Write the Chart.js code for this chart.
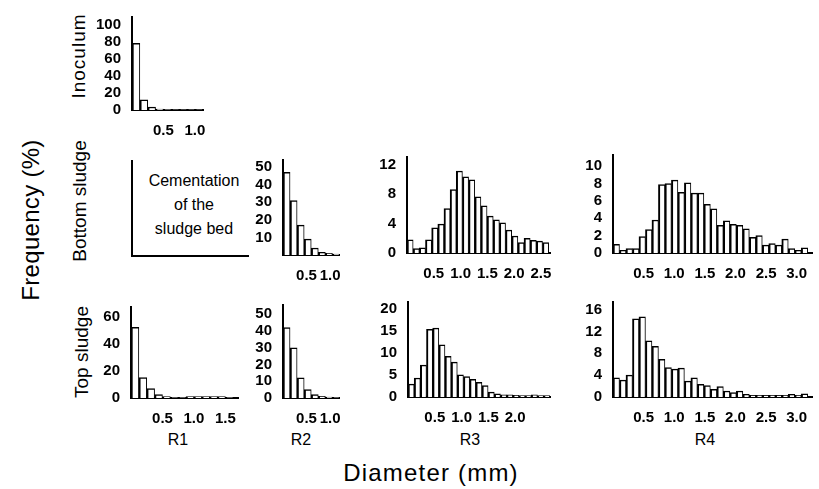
<!DOCTYPE html>
<html>
<head>
<meta charset="utf-8">
<script src="https://cdn.jsdelivr.net/npm/chart.js@4.4.1/dist/chart.umd.min.js"></script>
<style>
  body { margin: 0; background: #fff; }
  #wrap { position: relative; width: 819px; height: 489px; overflow: hidden; font-family: "Liberation Sans", Arial, sans-serif; color: #000; }
  #wrap canvas { position: absolute; }
  .lbl { position: absolute; white-space: nowrap; transform: translate(-50%, -50%); }
  .rot { transform: translate(-50%, -50%) rotate(-90deg); }
  .row { font-size: 19px; }
  .col { font-size: 16px; }
  #cement { position: absolute; left: 131px; top: 160px; width: 116px; height: 95px; border-left: 2px solid #000; border-bottom: 2px solid #000; }
  #cementText { position: absolute; left: 194px; top: 205px; transform: translate(-50%, -50%); text-align: center; font-size: 16px; line-height: 24px; }
</style>
</head>
<body>
<div id="wrap">
  <div class="lbl rot" style="left:31px; top:220px; font-size:24px; letter-spacing:0.3px;">Frequency (%)</div>
  <div class="lbl rot row" style="left:79px; top:56px; letter-spacing:1px;">Inoculum</div>
  <div class="lbl rot row" style="left:80px; top:201px;">Bottom sludge</div>
  <div class="lbl rot row" style="left:82px; top:352px;">Top sludge</div>
  <div id="cement"></div>
  <div id="cementText">Cementation<br>of the<br>sludge bed</div>
  <div class="lbl col" style="left:178px; top:440px;">R1</div>
  <div class="lbl col" style="left:301px; top:440px;">R2</div>
  <div class="lbl col" style="left:470px; top:440px;">R3</div>
  <div class="lbl col" style="left:705px; top:440px;">R4</div>
  <div class="lbl" style="left:431px; top:473px; font-size:24px; letter-spacing:1.2px;">Diameter (mm)</div>
</div>
<script>
// Histogram bin width (mm) and frequency (%) per bin
const inoculumBin = 0.125;
const inoculumFreq = [78, 12, 3.5, 1, 0.5, 0.3, 0.3, 0.3, 0.3];

const bottomR2Bin = 0.15;
const bottomR2Freq = [47, 31, 17, 9, 4, 1.5, 1, 0.5];

const bottomR3Bin = 0.115;
const bottomR3Freq = [1.8, 0.6, 0.7, 1.8, 3.4, 3.9, 6.0, 8.6, 11.1, 10.3, 9.9, 7.6,
  6.4, 5.0, 4.5, 4.1, 3.1, 2.3, 1.4, 2.0, 1.7, 1.6, 1.4];

const bottomR4Bin = 0.106;
const bottomR4Freq = [1.0, 0.3, 0.5, 0.5, 1.9, 2.7, 3.8, 7.9, 8.0, 8.4, 7.0, 8.1, 6.9,
  6.9, 5.6, 5.1, 3.2, 3.7, 3.3, 3.2, 2.8, 1.8, 2.0, 0.9, 1.1, 0.9, 1.6, 0.5, 0.3, 0.6];

const topR1Bin = 0.125;
const topR1Freq = [52, 15, 7, 2.5, 1, 0.4, 0.4, 1, 1, 1, 1, 1, 0.4];

const topR2Bin = 0.15;
const topR2Freq = [42, 30, 12, 5, 2, 1, 0.5, 0.3];

const topR3Bin = 0.115;
const topR3Freq = [2.9, 4.3, 7.2, 15.3, 15.6, 11.8, 9.2, 7.9, 5.0, 4.6, 4.0, 3.3,
  2.6, 1.1, 0.7, 0.5, 0.5, 0.4, 0.3, 0.3, 0.5, 0.3, 0.3];

const topR4Bin = 0.106;
const topR4Freq = [3.5, 3.1, 4.0, 14.3, 14.7, 10.3, 9.3, 6.9, 5.4, 5.1, 5.3, 2.9, 3.5,
  2.3, 2.1, 1.4, 1.9, 1.1, 0.8, 1.1, 0.5, 0.3, 0.3, 0.3, 0.3, 0.3, 0.3, 0.5, 0.3, 0.6];

// Tick labels
const xTicksR1 = [0.5, 1.0, 1.5];
const xTicksInoc = [0.5, 1.0];
const xTicksR2 = [0.5, 1.0];
const xTicksBottomR3 = [0.5, 1.0, 1.5, 2.0, 2.5];
const xTicksTopR3 = [0.5, 1.0, 1.5, 2.0];
const xTicksR4 = [0.5, 1.0, 1.5, 2.0, 2.5, 3.0];

const yTicksInoc = [0, 20, 40, 60, 80, 100];
const yTicksBottomR2 = [10, 20, 30, 40, 50];
const yTicksBottomR3 = [0, 4, 8, 12];
const yTicksBottomR4 = [0, 2, 4, 6, 8, 10];
const yTicksTopR1 = [0, 20, 40, 60];
const yTicksTopR2 = [0, 10, 20, 30, 40, 50];
const yTicksTopR3 = [0, 5, 10, 15, 20];
const yTicksTopR4 = [0, 4, 8, 12, 16];

const tickFont = { family: "'Liberation Sans', Arial, sans-serif", size: 15, weight: 'bold' };

// box = pixel position of the plot area on the page
function makePanel(bin, freq, xTicks, yTicks, xMax, yMax, box) {
  const padL = 44, padT = 10, padR = 8, axisH = 30;
  const w = box.right - box.left + padL + padR;
  const h = box.bottom - box.top + padT + axisH;
  const canvas = document.createElement("canvas");
  canvas.width = w;
  canvas.height = h;
  canvas.style.left = box.left - padL + "px";
  canvas.style.top = box.top - padT + "px";
  canvas.style.width = w + "px";
  canvas.style.height = h + "px";
  document.getElementById("wrap").appendChild(canvas);

  new Chart(canvas.getContext("2d"), {
    type: "bar",
    data: {
      datasets: [
        {
          data: freq.map((f, i) => ({ x: (i + 0.5) * bin, y: f })),
          backgroundColor: "#fff",
          borderColor: "#000",
          borderWidth: { left: 2, top: 1.5, right: 1, bottom: 0 },
          categoryPercentage: 1,
          barPercentage: 1,
        },
      ],
    },
    options: {
      responsive: false,
      animation: false,
      devicePixelRatio: 1,
      layout: { padding: { top: padT, right: padR, left: 0, bottom: 0 } },
      plugins: { legend: { display: false }, tooltip: { enabled: false } },
      scales: {
        x: {
          type: "linear",
          min: 0,
          max: xMax,
          offset: false,
          grid: { display: false },
          border: { color: "#000", width: 2 },
          afterBuildTicks: (axis) => { axis.ticks = xTicks.map((v) => ({ value: v })); },
          afterFit: (axis) => { axis.height = axisH; },
          ticks: {
            callback: (v) => v.toFixed(1),
            autoSkip: false,
            maxRotation: 0,
            padding: 4,
            color: "#000",
            font: tickFont,
          },
        },
        y: {
          min: 0,
          max: yMax,
          grid: { display: false },
          border: { color: "#000", width: 2 },
          afterBuildTicks: (axis) => { axis.ticks = yTicks.map((v) => ({ value: v })); },
          afterFit: (axis) => { axis.width = padL; },
          ticks: {
            callback: (v) => String(v),
            autoSkip: false,
            padding: 3,
            color: "#000",
            font: tickFont,
          },
        },
      },
    },
  });
}

makePanel(inoculumBin, inoculumFreq, xTicksInoc, yTicksInoc, 1.13, 109,
  { left: 132, right: 203, top: 15, bottom: 110 });
makePanel(bottomR2Bin, bottomR2Freq, xTicksR2, yTicksBottomR2, 1.19, 54,
  { left: 283, right: 339, top: 158, bottom: 255 });
makePanel(bottomR3Bin, bottomR3Freq, xTicksBottomR3, yTicksBottomR3, 2.67, 13,
  { left: 407, right: 550, top: 155, bottom: 253 });
makePanel(bottomR4Bin, bottomR4Freq, xTicksR4, yTicksBottomR4, 3.25, 11.3,
  { left: 613, right: 812, top: 153, bottom: 253 });
makePanel(topR1Bin, topR1Freq, xTicksR1, yTicksTopR1, 1.7, 67,
  { left: 131, right: 238, top: 305, bottom: 398 });
makePanel(topR2Bin, topR2Freq, xTicksR2, yTicksTopR2, 1.19, 55.5,
  { left: 283, right: 339, top: 303, bottom: 398 });
makePanel(topR3Bin, topR3Freq, xTicksTopR3, yTicksTopR3, 2.65, 21.5,
  { left: 408, right: 550, top: 300, bottom: 397 });
makePanel(topR4Bin, topR4Freq, xTicksR4, yTicksTopR4, 3.25, 17.4,
  { left: 613, right: 812, top: 300, bottom: 397 });
</script>
</body>
</html>
